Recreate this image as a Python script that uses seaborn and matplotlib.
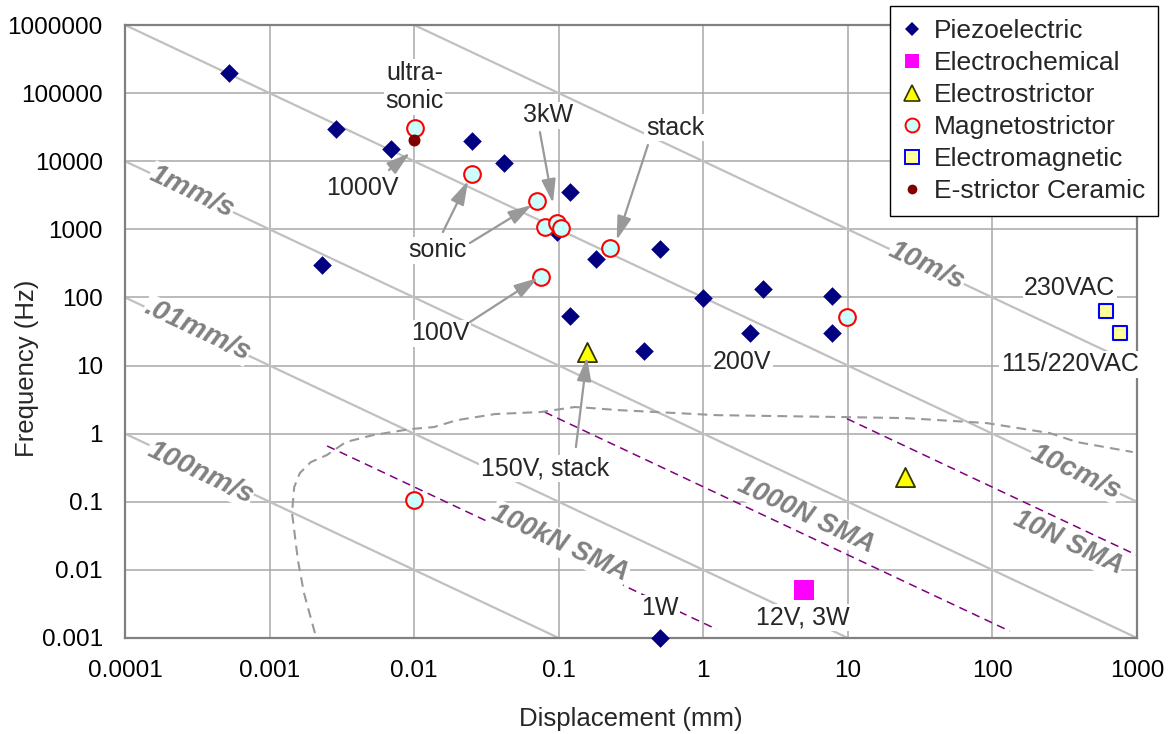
import numpy as np
import pandas as pd
import matplotlib
matplotlib.use('Agg')
import matplotlib.pyplot as plt
import seaborn as sns
from matplotlib.lines import Line2D
from matplotlib.ticker import FixedLocator, FixedFormatter, NullLocator

# ---------------- data ----------------
kinds = ['Piezoelectric', 'Electrochemical', 'Electrostrictor',
         'Magnetostrictor', 'Electromagnetic', 'E-strictor Ceramic']

piezo_disp = [0.00052, 0.0029, 0.0069, 0.0023, 0.025, 0.042, 0.12, 0.097, 0.18,
              0.5, 1.0, 2.6, 7.8, 0.12, 2.1, 7.8, 0.39, 0.5]
piezo_freq = [2.0e5, 3.0e4, 1.5e4, 300, 2.0e4, 9.4e3, 3.5e3, 900, 370,
              510, 98, 133, 105, 53, 30, 30, 16.3, 0.001]
echem_disp = [5.0]
echem_freq = [0.005]
estrict_disp = [0.157, 25]
estrict_freq = [15.8, 0.23]
magneto_disp = [0.0101, 0.0251, 0.0706, 0.080, 0.097, 0.104, 0.226, 0.0753, 9.85, 0.01]
magneto_freq = [30700, 6500, 2600, 1080, 1240, 1045, 531, 199, 51.6, 0.106]
emag_disp = [608, 760]
emag_freq = [63, 30]
ceramic_disp = [0.01]
ceramic_freq = [20500]

# constant-speed reference lines (end points)
speed_names = ['10m/s', '10cm/s', '1mm/s', '.01mm/s', '100nm/s']
speed_x0 = [0.01, 0.0001, 0.0001, 0.0001, 0.0001]
speed_y0 = [1e6, 1e6, 1e4, 100, 1]
speed_x1 = [1000, 1000, 1000, 10, 0.1]
speed_y1 = [10, 0.1, 0.001, 0.001, 0.001]
speed_label_x = [35.2, 378, 0.00029, 0.000315, 0.000331]
speed_label_y = [289, 0.273, 3532, 33.2, 0.264]

# SMA lines (end points)
sma_names = ['100kN SMA', '1000N SMA', '10N SMA']
sma_x0 = [0.0025, 0.080, 9.85]
sma_y0 = [0.66, 2.07, 1.66]
sma_x1 = [1.24, 132, 1000]
sma_y1 = [0.00134, 0.00126, 0.0164]
sma_label_x = [0.102, 5.13, 332]
sma_label_y = [0.0248, 0.0638, 0.0248]

# envelope (gray dashed)
env_x = [0.00206, 0.00173, 0.00157, 0.00148, 0.00143, 0.00148, 0.00162, 0.00193,
         0.00249, 0.00337, 0.00519, 0.0095, 0.0137, 0.0198, 0.0362, 0.0753, 0.129,
         0.167, 0.256, 1.24, 9.84, 25.6, 91.4, 249, 384, 935]
env_y = [0.00118, 0.00456, 0.0139, 0.0384, 0.0682, 0.164, 0.264, 0.383,
         0.485, 0.753, 0.953, 1.17, 1.25, 1.58, 1.94, 2.08, 2.46,
         2.38, 2.22, 1.87, 1.75, 1.69, 1.43, 1.02, 0.753, 0.537]

# annotations
note_text = ['ultra-\nsonic', '1000V', 'sonic', '3kW', 'stack', '100V', '200V',
             '150V, stack', '1W', '12V, 3W', '230VAC', '115/220VAC']
note_x = [0.0101, 0.00436, 0.0146, 0.0841, 0.637, 0.0151, 1.85, 0.0804, 0.5, 4.89, 343, 343]
note_y = [1.23e5, 4040, 497, 47600, 30800, 30, 11.2, 0.313, 0.00275, 0.00203, 137, 10.5]
arrow_x0 = [0.0067, 0.0158, 0.0243, 0.0741, 0.414, 0.0243, 0.1315]
arrow_y0 = [7430, 912, 630, 26800, 17300, 43.5, 0.635]
arrow_x1 = [0.00935, 0.0236, 0.0653, 0.0912, 0.252, 0.0718, 0.157]
arrow_y1 = [13200, 5120, 2275, 2430, 697, 193, 13.3]

x_ticks = [0.0001, 0.001, 0.01, 0.1, 1, 10, 100, 1000]
x_tick_labels = ['0.0001', '0.001', '0.01', '0.1', '1', '10', '100', '1000']
y_ticks = [0.001, 0.01, 0.1, 1, 10, 100, 1000, 10000, 100000, 1000000]
y_tick_labels = ['0.001', '0.01', '0.1', '1', '10', '100', '1000', '10000', '100000', '1000000']

# ---------------- style ----------------
sns.set_style('white')
plt.rcParams['font.family'] = ['Liberation Sans', 'DejaVu Sans']
plt.rcParams['lines.scale_dashes'] = False

fig, ax = plt.subplots(figsize=(11.72, 7.34), dpi=100)
fig.subplots_adjust(left=125/1172, right=1137/1172, top=1-25/734, bottom=1-638/734)
ax.set_xscale('log')
ax.set_yscale('log')
ax.set_xlim(x_ticks[0], x_ticks[-1])
ax.set_ylim(y_ticks[0], y_ticks[-1])
ax.xaxis.set_major_locator(FixedLocator(x_ticks))
ax.xaxis.set_major_formatter(FixedFormatter(x_tick_labels))
ax.yaxis.set_major_locator(FixedLocator(y_ticks))
ax.yaxis.set_major_formatter(FixedFormatter(y_tick_labels))
ax.xaxis.set_minor_locator(NullLocator())
ax.yaxis.set_minor_locator(NullLocator())
ax.set_axisbelow(True)
ax.grid(True, which='major', color='#A8A8A8', lw=1.1)
ax.tick_params(length=0, labelsize=17.5, pad=16, colors='black')
for s in ax.spines.values():
    s.set_color('#808080')
    s.set_linewidth(1.6)

# rotation for labels along slope -1 lines
p0 = ax.transData.transform((1e-2, 1e2))
p1 = ax.transData.transform((1e-1, 1e1))
angle = np.degrees(np.arctan2(p1[1]-p0[1], p1[0]-p0[0]))

label_style = dict(color='#808080', fontweight='bold', fontstyle='italic',
                   ha='center', va='center', rotation=angle, rotation_mode='anchor',
                   bbox=dict(facecolor='white', edgecolor='none', pad=0.5), zorder=2.5)

# speed lines
for i in range(len(speed_names)):
    ax.plot([speed_x0[i], speed_x1[i]], [speed_y0[i], speed_y1[i]],
            color='#C0C0C0', lw=1.6, zorder=1, solid_capstyle='butt')
    ax.text(speed_label_x[i], speed_label_y[i], speed_names[i], fontsize=20.5, **label_style)

# SMA lines
for i in range(len(sma_names)):
    ax.plot([sma_x0[i], sma_x1[i]], [sma_y0[i], sma_y1[i]],
            color='#800080', lw=1.1, ls=(0, (6, 4)), zorder=1.5)
    ax.text(sma_label_x[i], sma_label_y[i], sma_names[i], fontsize=19.5, **label_style)

# envelope
ax.plot(env_x, env_y, color='#999999', lw=1.5, ls=(0, (7, 4.5)), zorder=1.5)

# scatter series via seaborn
df = pd.concat([
    pd.DataFrame({'disp': piezo_disp, 'freq': piezo_freq, 'kind': kinds[0]}),
    pd.DataFrame({'disp': echem_disp, 'freq': echem_freq, 'kind': kinds[1]}),
    pd.DataFrame({'disp': estrict_disp, 'freq': estrict_freq, 'kind': kinds[2]}),
    pd.DataFrame({'disp': magneto_disp, 'freq': magneto_freq, 'kind': kinds[3]}),
    pd.DataFrame({'disp': emag_disp, 'freq': emag_freq, 'kind': kinds[4]}),
    pd.DataFrame({'disp': ceramic_disp, 'freq': ceramic_freq, 'kind': kinds[5]}),
], ignore_index=True)

styles = {
    'Piezoelectric': dict(marker='D', s=90, color='#000080', edgecolor='#000080', linewidth=0),
    'Electrochemical': dict(marker='s', s=205, color='#FF00FF', edgecolor='#FF00FF', linewidth=0),
    'Electrostrictor': dict(marker='^', s=190, color='#FFFF00', edgecolor='#333300', linewidth=1.3),
    'Magnetostrictor': dict(marker='o', s=144, color='#CCFFFF', edgecolor='#FF0000', linewidth=1.5),
    'Electromagnetic': dict(marker='s', s=96, color='#FFFF99', edgecolor='#0000FF', linewidth=1.5),
    'E-strictor Ceramic': dict(marker='o', s=74, color='#800000', edgecolor='#800000', linewidth=0),
}
for k in kinds:
    sub = df[df['kind'] == k]
    sns.scatterplot(data=sub, x='disp', y='freq', ax=ax, legend=False, zorder=3,
                    clip_on=False, **styles[k])

ax.set_xlabel('Displacement (mm)', fontsize=18.5)
ax.set_ylabel('Frequency (Hz)', fontsize=18.5)
ax.xaxis.set_label_coords(0.5, -0.113)
ax.yaxis.set_label_coords(-0.085, 0.44)

# annotations
for i, t in enumerate(note_text):
    ax.text(note_x[i], note_y[i], t, fontsize=18, ha='center', va='center',
            linespacing=1.25, zorder=4,
            bbox=dict(facecolor='white', edgecolor='none', pad=1))
for i in range(len(arrow_x0)):
    ax.annotate('', xy=(arrow_x1[i], arrow_y1[i]), xytext=(arrow_x0[i], arrow_y0[i]),
                arrowprops=dict(arrowstyle='-|>,head_length=1.2,head_width=0.36',
                                mutation_scale=12, color='#999999', lw=1.6,
                                shrinkA=0, shrinkB=0), zorder=5)

# legend
handles = [
    Line2D([], [], ls='none', marker='D', ms=7.5, mfc='#000080', mec='#000080', mew=0),
    Line2D([], [], ls='none', marker='s', ms=10.5, mfc='#FF00FF', mec='#FF00FF', mew=0),
    Line2D([], [], ls='none', marker='^', ms=11, mfc='#FFFF00', mec='#333300', mew=1.2),
    Line2D([], [], ls='none', marker='o', ms=10, mfc='#CCFFFF', mec='#FF0000', mew=1.4),
    Line2D([], [], ls='none', marker='s', ms=9.5, mfc='#FFFF99', mec='#0000FF', mew=1.4),
    Line2D([], [], ls='none', marker='o', ms=7, mfc='#800000', mec='#800000', mew=0),
]
leg = ax.legend(handles, kinds, loc='upper right', bbox_to_anchor=(1158/1172, 1-6/734),
                bbox_transform=fig.transFigure, frameon=True, fancybox=False,
                edgecolor='black', fontsize=19, handlelength=0.7, handletextpad=0.45,
                borderpad=0.5, labelspacing=0.3, borderaxespad=0, framealpha=1)
leg.get_frame().set_linewidth(1.0)
leg.set_zorder(10)

fig.savefig('out.png', dpi=100)
